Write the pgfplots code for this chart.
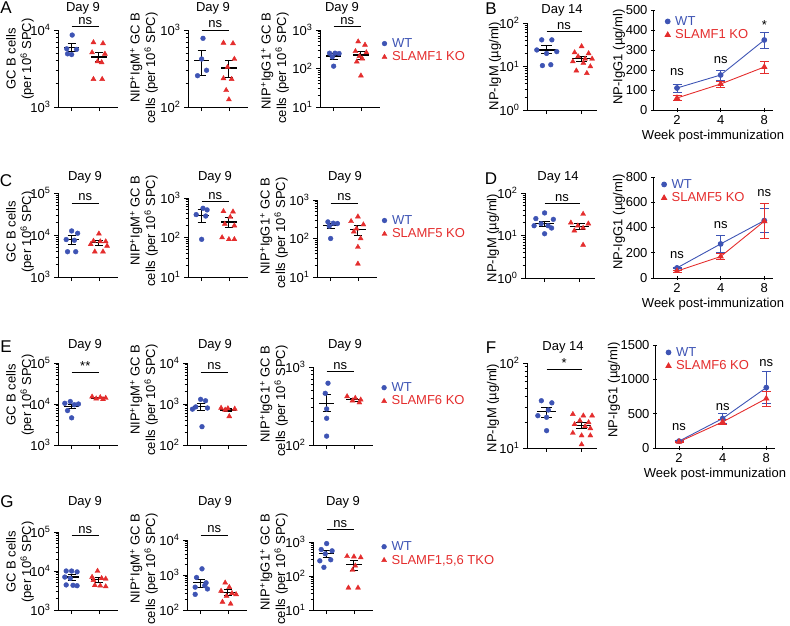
\documentclass[border=0pt]{standalone}
\usepackage{fontspec}
\setmainfont{Liberation Sans}
\usepackage{pgfplots}
\pgfplotsset{compat=1.18}

\definecolor{wtblue}{RGB}{62,84,180}
\definecolor{kored}{RGB}{228,45,45}
\newcommand{\fsz}{\fontsize{13}{15.5}\selectfont}
\newcommand{\sps}[1]{\textsuperscript{#1}}

\pgfplotsset{
  pBase/.style={scale only axis, anchor=south west, clip=false,
    axis x line*=bottom, axis y line*=left,
    axis line style={-, line width=1pt},
    tick align=outside, major tick length=4pt, minor tick length=2.5pt,
    tick style={black, line width=0.8pt},
    tick label style={font=\fsz},
    label style={font=\fsz},
    legend style={font=\fsz, draw=none, fill=none, inner sep=0pt, row sep=-1pt,
      nodes={inner sep=2pt}, /tikz/every odd column/.append style={column sep=3pt}},
    legend cell align=left,
  },
  pLog/.style={minor ytick={2,3,4,5,6,7,8,9,2e1,3e1,4e1,5e1,6e1,7e1,8e1,9e1,
    2e2,3e2,4e2,5e2,6e2,7e2,8e2,9e2,2e3,3e3,4e3,5e3,6e3,7e3,8e3,9e3,
    2e4,3e4,4e4,5e4,6e4,7e4,8e4,9e4}},
  pScat/.style={pBase, pLog, xmin=0.5, xmax=2.7, xtick={1,2}, xticklabels={}, width=60pt},
  pScatB/.style={pBase, pLog, xmin=0.44, xmax=2.44, xtick={1,2}, xticklabels={}, width=70pt},
  pLin/.style={pBase, axis x line=bottom, axis y line=left,
    every outer x axis line/.append style={-}, every outer y axis line/.append style={-},
    ytick pos=left, xtick pos=bottom, yticklabel pos=left,
    width=120pt, xmin=-0.55, xmax=2.2, ymin=0, xtick={0,1,2},
    xticklabels={2,4,8}, xlabel={Week post-immunization}, xlabel style={yshift=2pt}},
  pWT/.style={only marks, mark=*, mark size=2.4pt, color=wtblue},
  pKO/.style={only marks, mark=triangle*, mark size=2.9pt, color=kored},
  pSem/.style={black, line width=1pt, forget plot, no marks},
  pErr/.style={error bars/y dir=both, error bars/y explicit,
    error bars/error bar style={line width=0.9pt},
    error bars/error mark options={rotate=90, mark size=4.5pt, line width=0.9pt}},
  pWTl/.style={color=wtblue, mark=*, mark size=2.4pt, line width=0.9pt, pErr},
  pKOl/.style={color=kored, mark=triangle*, mark size=2.9pt, line width=0.9pt, pErr},
}
\pgfplotsset{legend image code/.code={\draw[#1, only marks] plot coordinates {(0pt,0pt)};}}

% mean and SEM bars
\newcommand{\semWT}[3]{%
  \addplot[pSem, line width=1.3pt] coordinates {(0.72,#1) (1.28,#1)};
  \addplot[pSem] coordinates {(1,#2) (1,#3)};
  \addplot[pSem] coordinates {(0.85,#2) (1.15,#2)};
  \addplot[pSem] coordinates {(0.85,#3) (1.15,#3)};
}
\newcommand{\semKO}[3]{%
  \addplot[pSem, line width=1.3pt] coordinates {(1.72,#1) (2.28,#1)};
  \addplot[pSem] coordinates {(2,#2) (2,#3)};
  \addplot[pSem] coordinates {(1.85,#2) (2.15,#2)};
  \addplot[pSem] coordinates {(1.85,#3) (2.15,#3)};
}
\newcommand{\sigA}[2]{\draw[line width=1pt] (rel axis cs:0.2273,#1) -- node[above, inner sep=1.5pt, font=\fsz] {#2} (rel axis cs:0.6818,#1);}
\newcommand{\sigB}[2]{\draw[line width=1pt] (rel axis cs:0.28,#1) -- node[above, inner sep=1.5pt, font=\fsz] {#2} (rel axis cs:0.78,#1);}

\newcommand{\gclab}[2]{\node[rotate=90, align=center, font=\fsz] at (#1pt,-#2pt) {GC B cells\\(per 10\sps{6} SPC)};}
\newcommand{\niplab}[3]{\node[rotate=90, align=right, anchor=east, font=\fsz] at (#1pt,-#2pt) {NIP\sps{+}#3\sps{+} GC B\\cells (per 10\sps{6} SPC)};}
\newcommand{\letter}[3]{\node[font=\fontsize{17}{17}\selectfont] at (#1pt,-#2pt) {#3};}
\newcommand{\ttl}[3]{\node[font=\fsz] at (#1pt,-#2pt) {#3};}

\begin{document}
\begin{tikzpicture}[font=\fsz]
\useasboundingbox (0,0) rectangle (790pt,-625pt);

% ================= row A / B
\letter{6}{8}{A}
\letter{491}{9}{B}
\ttl{83}{8}{Day 9}
\ttl{213}{8}{Day 9}
\ttl{342}{8}{Day 9}
\ttl{562}{10}{Day 14}
\gclab{20}{59}
\niplab{144}{9}{IgM}
\niplab{275}{9}{IgG1}
\node[rotate=90, font=\fsz] at (495pt,-66pt) {NP-IgM (µg/ml)};
\node[rotate=90, font=\fsz] at (619pt,-57pt) {NP-IgG1 (µg/ml)};

\begin{semilogyaxis}[pScat, at={(58pt,-107pt)}, height=77pt, ymin=1e3, ymax=1e4,
  ytick={1e3,1e4}, yticklabels={10\sps{3},10\sps{4}}]
\addplot[pWT] coordinates {(1.02,8600) (0.82,5700) (1.18,5600) (0.85,4900) (1.0,4800)};
\addplot[pKO] coordinates {(1.8,6900) (2.15,6700) (1.75,5100) (2.22,4900) (1.95,3900) (2.1,3800) (1.8,2300) (2.12,2300)};
\semWT{5900}{5200}{6600}
\semKO{4450}{3900}{5100}
\sigA{1.05}{ns}
\end{semilogyaxis}

\begin{semilogyaxis}[pScat, at={(188pt,-107pt)}, height=77pt, ymin=1e2, ymax=1e3,
  ytick={1e2,1e3}, yticklabels={10\sps{2},10\sps{3}}]
\addplot[pWT] coordinates {(1.05,780) (1.18,300) (0.85,255) (1.0,420)};
\addplot[pKO] coordinates {(1.8,680) (2.15,670) (2.2,420) (1.95,330) (1.8,235) (2.1,230) (1.9,165) (2.0,125)};
\semWT{400}{255}{540}
\semKO{320}{240}{400}
\sigA{1.0}{ns}
\end{semilogyaxis}

\begin{semilogyaxis}[pScat, at={(320pt,-107pt)}, height=77pt, ymin=1e1, ymax=1e3,
  ytick={1e1,1e2,1e3}, yticklabels={10\sps{1},10\sps{2},10\sps{3}},
  legend style={at={(1.03,0.92)}, anchor=north west}]
\addplot[pWT] coordinates {(0.85,250) (1.05,250) (1.2,245) (0.95,200) (1.0,115)};
\addplot[pKO] coordinates {(1.9,500) (2.15,410) (1.8,280) (2.2,260) (1.95,210) (2.05,180) (1.85,150) (2.0,65)};
\semWT{212}{175}{245}
\semKO{225}{175}{280}
\sigA{1.05}{ns}
\legend{\textcolor{wtblue}{WT},\textcolor{kored}{SLAMF1 KO}}
\end{semilogyaxis}

\begin{semilogyaxis}[pScatB, at={(527pt,-110pt)}, height=87pt, ymin=1, ymax=100,
  ytick={1,10,100}, yticklabels={10\sps{0},10\sps{1},10\sps{2}}]
\addplot[pWT] coordinates {(0.86,41) (1.15,41) (0.72,24) (1.29,22) (1.0,20) (0.88,10.5) (1.12,11)};
\addplot[pKO] coordinates {(2.0,29) (1.8,21) (2.2,20) (1.9,17) (2.1,15) (2.3,15) (1.75,13) (2.05,12) (2.25,10) (1.85,8) (2.15,7)};
\semWT{24}{20}{30}
\semKO{15}{13}{17}
\sigB{0.9}{ns}
\end{semilogyaxis}

\begin{axis}[pLin, at={(653pt,-110pt)}, height=100pt, ymax=500,
  ytick={0,100,200,300,400,500}, yticklabels={0,100,200,300,400,500},
  legend style={at={(0.1,0.96)}, anchor=north west}]
\addplot[pWTl] coordinates {(0,110) +- (0,20) (1,175) +- (0,25) (2,350) +- (0,40)};
\addplot[pKOl] coordinates {(0,60) +- (0,12) (1,130) +- (0,15) (2,215) +- (0,30)};
\legend{\textcolor{wtblue}{WT},\textcolor{kored}{SLAMF1 KO}}
\node[font=\fsz] at (axis cs:0,190) {ns};
\node[font=\fsz] at (axis cs:1,250) {ns};
\node[font=\fsz] at (axis cs:2,425) {*};
\end{axis}

% ================= row C / D
\letter{6}{181}{C}
\letter{491}{179}{D}
\ttl{85}{177}{Day 9}
\ttl{215}{177}{Day 9}
\ttl{345}{177}{Day 9}
\ttl{558}{177}{Day 14}
\gclab{20}{232}
\niplab{144}{172}{IgM}
\niplab{274}{174}{IgG1}
\node[rotate=90, font=\fsz] at (493pt,-238pt) {NP-IgM (µg/ml)};
\node[rotate=90, font=\fsz] at (619pt,-222pt) {NP-IgG1 (µg/ml)};

\begin{semilogyaxis}[pScat, at={(58pt,-277pt)}, height=84pt, ymin=1e3, ymax=1e5,
  ytick={1e3,1e4,1e5}, yticklabels={10\sps{3},10\sps{4},10\sps{5}}]
\addplot[pWT] coordinates {(1.0,12500) (1.22,11000) (0.8,7800) (1.1,7500) (0.85,4000) (1.15,4000)};
\addplot[pKO] coordinates {(2.0,10700) (1.8,7200) (2.05,7000) (2.25,7000) (1.7,6000) (2.3,5500) (1.85,4000) (2.15,4000)};
\semWT{7800}{6000}{9700}
\semKO{6600}{5700}{7600}
\sigA{0.88}{ns}
\end{semilogyaxis}

\begin{semilogyaxis}[pScat, at={(188pt,-277pt)}, height=79pt, ymin=1e1, ymax=1e3,
  ytick={1e1,1e2,1e3}, yticklabels={10\sps{1},10\sps{2},10\sps{3}}]
\addplot[pWT] coordinates {(1.05,550) (1.2,500) (0.8,380) (1.15,350) (1.0,90)};
\addplot[pKO] coordinates {(1.8,460) (2.15,450) (2.05,330) (1.85,220) (2.2,200) (1.75,100) (2.0,90) (2.2,90)};
\semWT{360}{240}{510}
\semKO{245}{180}{320}
\sigA{0.95}{ns}
\end{semilogyaxis}

\begin{semilogyaxis}[pScat, at={(317pt,-277pt)}, height=77pt, ymin=1e1, ymax=1e3,
  ytick={1e1,1e2,1e3}, yticklabels={10\sps{1},10\sps{2},10\sps{3}},
  legend style={at={(1.08,0.83)}, anchor=north west}]
\addplot[pWT] coordinates {(0.9,270) (1.1,250) (1.25,245) (0.95,210) (1.0,100)};
\addplot[pKO] coordinates {(2.0,370) (1.75,280) (2.2,230) (1.95,180) (1.85,150) (2.1,100) (2.0,60) (2.0,22)};
\semWT{215}{180}{250}
\semKO{170}{120}{220}
\sigA{0.96}{ns}
\legend{\textcolor{wtblue}{WT},\textcolor{kored}{SLAMF5 KO}}
\end{semilogyaxis}

\begin{semilogyaxis}[pScatB, at={(525pt,-278pt)}, height=85pt, ymin=1, ymax=100,
  ytick={1,10,100}, yticklabels={10\sps{0},10\sps{1},10\sps{2}}]
\addplot[pWT] coordinates {(1.0,34) (0.75,25) (1.25,24) (0.9,19) (1.1,17) (0.7,17) (1.2,15) (1.0,11)};
\addplot[pKO] coordinates {(2.1,32) (1.75,20) (2.25,19) (1.95,17) (2.1,15) (1.85,13) (2.1,6)};
\semWT{19}{16.5}{21.5}
\semKO{16.5}{14}{19.5}
\sigB{0.88}{ns}
\end{semilogyaxis}

\begin{axis}[pLin, at={(653pt,-278pt)}, height=101pt, ymax=800,
  ytick={0,200,400,600,800}, yticklabels={0,200,400,600,800},
  legend style={at={(0.07,1.0)}, anchor=north west}]
\addplot[pWTl] coordinates {(0,80) +- (0,6) (1,270) +- (0,70) (2,455) +- (0,95)};
\addplot[pKOl] coordinates {(0,55) +- (0,8) (1,170) +- (0,25) (2,450) +- (0,140)};
\legend{\textcolor{wtblue}{WT},\textcolor{kored}{SLAMF5 KO}}
\node[font=\fsz] at (axis cs:0,182) {ns};
\node[font=\fsz] at (axis cs:1,420) {ns};
\node[font=\fsz] at (axis cs:2,673) {ns};
\end{axis}

% ================= row E / F
\letter{6}{347}{E}
\letter{491}{348}{F}
\ttl{85}{345}{Day 9}
\ttl{215}{345}{Day 9}
\ttl{345}{345}{Day 9}
\ttl{563}{347}{Day 14}
\gclab{20}{395}
\niplab{144}{341}{IgM}
\niplab{274}{342}{IgG1}
\node[rotate=90, font=\fsz] at (493pt,-408pt) {NP-IgM (µg/ml)};
\node[rotate=90, font=\fsz] at (614pt,-390pt) {NP-IgG1 (µg/ml)};

\begin{semilogyaxis}[pScat, at={(58pt,-445pt)}, height=82pt, ymin=1e3, ymax=1e5,
  ytick={1e3,1e4,1e5}, yticklabels={10\sps{3},10\sps{4},10\sps{5}}]
\addplot[pWT] coordinates {(0.95,11500) (0.75,10400) (1.25,10000) (1.1,9600) (0.85,6900) (1.0,4600)};
\addplot[pKO] coordinates {(1.75,15000) (2.05,14500) (2.25,14000) (1.9,13500) (2.15,13000)};
\semWT{8800}{7700}{9900}
\semKO{14000}{13400}{14600}
\sigA{0.89}{**}
\end{semilogyaxis}

\begin{semilogyaxis}[pScat, at={(187pt,-445pt)}, height=82pt, ymin=1e2, ymax=1e4,
  ytick={1e2,1e3,1e4}, yticklabels={10\sps{2},10\sps{3},10\sps{4}}]
\addplot[pWT] coordinates {(1.0,1300) (1.18,1200) (0.82,850) (1.25,800) (0.7,750) (1.05,280)};
\addplot[pKO] coordinates {(1.75,800) (2.0,780) (2.25,760) (1.9,720) (2.05,500)};
\semWT{870}{700}{1040}
\semKO{710}{640}{790}
\sigA{0.89}{ns}
\end{semilogyaxis}

\begin{semilogyaxis}[pScat, at={(313pt,-445pt)}, height=78pt, ymin=1e2, ymax=1e3,
  ytick={1e2,1e3}, yticklabels={10\sps{2},10\sps{3}},
  legend style={at={(1.14,0.83)}, anchor=north west}]
\addplot[pWT] coordinates {(1.05,620) (0.95,460) (1.0,290) (1.0,220) (1.0,130)};
\addplot[pKO] coordinates {(1.75,420) (2.05,400) (2.25,380) (1.95,370) (2.2,350)};
\semWT{344}{270}{440}
\semKO{384}{365}{400}
\sigA{0.94}{ns}
\legend{\textcolor{wtblue}{WT},\textcolor{kored}{SLAMF6 KO}}
\end{semilogyaxis}

\begin{semilogyaxis}[pScatB, at={(527pt,-448pt)}, height=85pt, ymin=10, ymax=100,
  ytick={10,100}, yticklabels={10\sps{1},10\sps{2}}]
\addplot[pWT] coordinates {(0.85,36) (1.15,34) (1.05,28) (0.75,24) (1.0,23) (1.0,16)};
\addplot[pKO] coordinates {(1.75,25) (2.05,24) (2.3,24) (1.95,21) (2.2,20) (1.8,19) (2.1,18) (2.25,17) (1.75,15) (2.0,14) (2.25,14) (2.0,11)};
\semWT{26.8}{23}{30}
\semKO{18.5}{17}{20}
\sigB{0.92}{*}
\end{semilogyaxis}

\begin{axis}[pLin, at={(655pt,-448pt)}, height=103pt, ymax=1500,
  ytick={0,500,1000,1500}, yticklabels={0,500,1000,1500},
  legend style={at={(0.09,1.0)}, anchor=north west}]
\addplot[pWTl] coordinates {(0,100) +- (0,15) (1,430) +- (0,70) (2,880) +- (0,230)};
\addplot[pKOl] coordinates {(0,90) +- (0,10) (1,380) +- (0,40) (2,720) +- (0,110)};
\legend{\textcolor{wtblue}{WT},\textcolor{kored}{SLAMF6 KO}}
\node[font=\fsz] at (axis cs:0,306) {ns};
\node[font=\fsz] at (axis cs:1,597) {ns};
\node[font=\fsz] at (axis cs:2,1238) {ns};
\end{axis}

% ================= row G
\letter{7}{502}{G}
\ttl{85}{502}{Day 9}
\ttl{215}{502}{Day 9}
\ttl{343}{502}{Day 9}
\gclab{20}{562}
\niplab{144}{510}{IgM}
\niplab{274}{510}{IgG1}

\begin{semilogyaxis}[pScat, at={(58pt,-610pt)}, height=78pt, ymin=1e3, ymax=1e5,
  ytick={1e3,1e4,1e5}, yticklabels={10\sps{3},10\sps{4},10\sps{5}}]
\addplot[pWT] coordinates {(0.8,10000) (1.0,10000) (1.2,9500) (0.75,7000) (0.95,6500) (0.8,4400) (1.05,4300) (1.2,4200)};
\addplot[pKO] coordinates {(1.95,10000) (1.75,7000) (2.1,6500) (2.25,6300) (1.8,5800) (1.85,4300) (2.05,4200) (2.25,4000)};
\semWT{7000}{5800}{8200}
\semKO{6000}{5100}{6900}
\sigA{0.96}{ns}
\end{semilogyaxis}

\begin{semilogyaxis}[pScat, at={(187pt,-610pt)}, height=70pt, ymin=1e2, ymax=1e4,
  ytick={1e2,1e3,1e4}, yticklabels={10\sps{2},10\sps{3},10\sps{4}}]
\addplot[pWT] coordinates {(1.05,1500) (0.85,850) (1.2,600) (1.15,500) (0.8,450) (1.25,400) (0.8,280)};
\addplot[pKO] coordinates {(1.9,600) (2.05,450) (1.75,350) (2.15,300) (2.3,280) (1.95,250) (1.8,170) (2.1,150)};
\semWT{600}{450}{750}
\semKO{320}{260}{380}
\sigA{1.07}{ns}
\end{semilogyaxis}

\begin{semilogyaxis}[pScat, at={(313pt,-610pt)}, height=68pt, ymin=1e1, ymax=1e3,
  ytick={1e1,1e2,1e3}, yticklabels={10\sps{1},10\sps{2},10\sps{3}},
  legend style={at={(1.14,1.04)}, anchor=north west}]
\addplot[pWT] coordinates {(1.0,900) (0.8,600) (1.2,550) (0.95,450) (1.15,300) (0.75,280) (0.9,180)};
\addplot[pKO] coordinates {(1.75,380) (2.0,370) (2.25,350) (2.05,200) (1.95,150) (1.8,45) (2.15,45)};
\semWT{470}{360}{570}
\semKO{220}{150}{290}
\sigA{1.18}{ns}
\legend{\textcolor{wtblue}{WT},{\textcolor{kored}{SLAMF1,5,6 TKO}}}
\end{semilogyaxis}

\end{tikzpicture}
\end{document}
